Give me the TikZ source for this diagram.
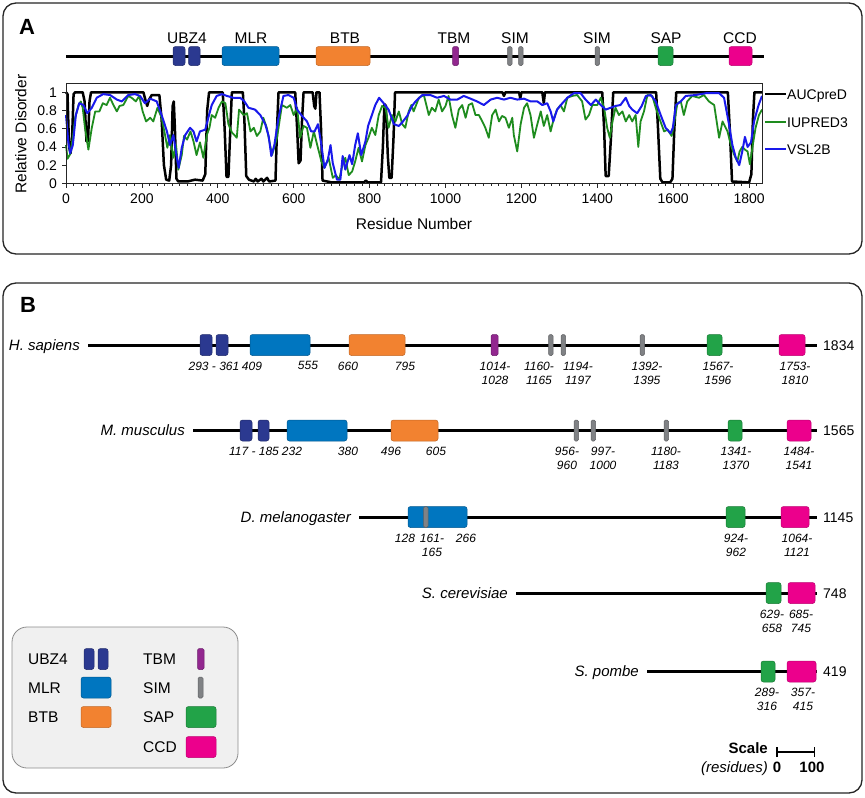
\documentclass[tikz,border=0pt]{standalone}
\usepackage{fontspec}
\setmainfont{Liberation Sans}
\usepackage{tikz}
\usetikzlibrary{positioning}
\usetikzlibrary{arrows.meta}

\definecolor{ubzblue}{RGB}{43,57,144}
\definecolor{mlrblue}{RGB}{0,118,192}
\definecolor{btborange}{RGB}{242,130,48}
\definecolor{tbmpurple}{RGB}{146,39,143}
\definecolor{simgray}{RGB}{128,130,133}
\definecolor{sapgreen}{RGB}{34,163,72}
\definecolor{ccdpink}{RGB}{236,0,140}
\definecolor{iugreen}{RGB}{30,140,30}
\definecolor{vslblue}{RGB}{25,25,235}

\newcommand{\dombox}[5][10.5]{\draw[#2] (#3,#5-#1) rectangle (#4,#5+#1);}

\begin{document}
\begin{tikzpicture}[x=1pt, y=-1pt,
   panel/.style={draw=black!85, line width=1.3pt, rounded corners=13pt},
   backbone/.style={line width=3pt},
   dom/.style={rounded corners=2.5pt, line width=0.5pt},
   ubz/.style={dom, fill=ubzblue, draw=ubzblue!75!black},
   mlr/.style={dom, fill=mlrblue, draw=mlrblue!75!black},
   btb/.style={dom, fill=btborange, draw=btborange!80!black},
   tbm/.style={dom, rounded corners=1.5pt, fill=tbmpurple, draw=tbmpurple!75!black},
   sim/.style={dom, rounded corners=1.5pt, fill=simgray, draw=simgray!75!black},
   sap/.style={dom, fill=sapgreen, draw=sapgreen!75!black},
   ccd/.style={dom, fill=ccdpink, draw=ccdpink!80!black},
   lbl/.style={font=\fontsize{15.5}{18}\selectfont, inner sep=0pt, text height=11pt, text depth=0pt},
   legtxt/.style={lbl, anchor=west},
   plotleg/.style={font=\fontsize{14}{17}\selectfont, inner sep=1pt, text height=10pt, text depth=0pt, anchor=west},
   ticklbl/.style={font=\fontsize{14}{16}\selectfont, inner sep=0pt, text height=10pt, text depth=0pt},
   species/.style={font=\fontsize{15}{18}\selectfont\itshape, inner xsep=8pt, inner ysep=0pt, text height=10.7pt, text depth=0pt, anchor=east},
   lenlbl/.style={font=\fontsize{14}{17}\selectfont, inner xsep=6pt, inner ysep=0pt, text height=10pt, text depth=0pt, anchor=west},
   poslbl/.style={font=\fontsize{12}{14}\selectfont\itshape, inner sep=0pt, align=center, anchor=north},
   panellbl/.style={font=\fontsize{22}{26}\selectfont\bfseries, inner sep=0pt},
   frame/.style={draw=black!85, line width=0.8pt},
   aucline/.style={black, line width=2.5pt, line join=round},
   iuline/.style={iugreen, line width=1.8pt, line join=round},
   vslline/.style={vslblue, line width=2pt, line join=round},
   legbox/.style={draw=black!45, fill=black!6, line width=0.8pt, rounded corners=15pt}]

   \useasboundingbox (0,0) rectangle (865,798);
   \fill[white] (0,0) rectangle (865,798);

   \draw[panel] (3,3) rectangle (862,254);
   \node[panellbl] (plA) at (27,27) {A};

   \coordinate (astart) at (66,56);
   \coordinate (aend) at (764,56);
   \draw[backbone] (astart) -- (aend);
   \dombox[9.5]{ubz}{173}{185}{56}
   \dombox[9.5]{ubz}{188.5}{200}{56}
   \dombox[9.5]{mlr}{222}{279}{56}
   \dombox[9.5]{btb}{316}{370}{56}
   \dombox[9.5]{tbm}{452.5}{458.5}{56}
   \dombox[9.5]{sim}{507.5}{512}{56}
   \dombox[9.5]{sim}{518.5}{523}{56}
   \dombox[9.5]{sim}{595}{599.5}{56}
   \dombox[9.5]{sap}{658}{673}{56}
   \dombox[9.5]{ccd}{729}{752}{56}
   \node[lbl] (aubz) at (187,38) {UBZ4};
   \node[lbl] (amlr) at (251,38) {MLR};
   \node[lbl] (abtb) at (345,38) {BTB};
   \node[lbl] (atbm) at (454,38) {TBM};
   \node[lbl] (asim1) at (515,38) {SIM};
   \node[lbl] (asim2) at (597,38) {SIM};
   \node[lbl] (asap) at (666,38) {SAP};
   \node[lbl] (accd) at (740,38) {CCD};

   \begin{scope}[shift={(66pt,-183.3pt)}, x=0.3795pt, y=91pt]
      \foreach \r in {0,20,...,1820}
         \draw[frame] (\r,0) -- ++(0,-3pt);
      \foreach \r in {0,200,...,1800} {
         \draw[frame] (\r,0) -- ++(0,-5pt);
         \node[ticklbl, below=9.5pt] (xt\r) at (\r,0) {\r};
      }
      \foreach \v [count=\i] in {0,0.2,0.4,0.6,0.8,1} {
         \draw[frame] (0,\v) -- ++(-4pt,0);
         \node[ticklbl, left=9pt] (yt\i) at (0,\v) {\v};
      }
      \draw[aucline] plot coordinates {(0,1) (4,0.98) (8,0.4) (12,0.33) (16,0.5) (20,0.98) (24,1) (44,1) (49,0.9) (54,0.46) (58,0.46) (62,0.9) (66,1) (204,1) (209,0.92) (214,0.85) (219,0.92) (226,0.97) (246,0.97) (252,0.7) (258,0.2) (264,0.04) (272,0.03) (277,0.2) (281,0.85) (284,0.9) (287,0.6) (291,0.05) (296,0.02) (320,0.02) (340,0.04) (360,0.03) (367,0.1) (372,0.8) (377,1) (413,1) (418,0.6) (423,0.07) (428,0.07) (433,0.6) (437,1) (466,1) (470,0.7) (475,0.08) (482,0.04) (495,0.02) (500,0.05) (505,0.02) (515,0.05) (520,0.02) (530,0.06) (535,0.02) (552,0.03) (556,0.6) (560,1) (604,1) (609,0.6) (613,0.22) (618,0.25) (622,0.7) (626,1) (650,1) (654,0.85) (657,0.82) (660,1) (668,1) (672,0.6) (676,0.03) (700,0.01) (785,0.01) (790,0.03) (795,0.01) (830,0.01) (835,0.4) (839,0.87) (843,0.85) (848,0.3) (852,0.06) (858,0.06) (863,0.5) (867,1) (1150,1) (1154,0.96) (1158,1) (1194,1) (1197,0.93) (1200,1) (1255,1) (1259,0.88) (1262,1) (1413,1) (1418,0.6) (1422,0.08) (1430,0.08) (1436,0.5) (1442,1) (1555,1) (1560,0.6) (1566,0.05) (1572,0.01) (1592,0.01) (1598,0.05) (1603,0.6) (1608,1) (1744,1) (1749,0.6) (1755,0.02) (1800,0.01) (1806,0.1) (1810,0.7) (1814,1) (1834,1)};
      \draw[iuline] plot coordinates {(0,0.42) (4,0.27) (11,0.32) (18,0.5) (24,0.72) (33,0.86) (39,0.9) (44,0.83) (50,0.61) (59,0.37) (68,0.61) (77,0.79) (88,0.79) (97,0.88) (107,0.86) (116,0.94) (125,0.86) (134,0.79) (141,0.85) (151,0.86) (164,0.96) (173,0.94) (184,0.9) (193,0.96) (202,0.79) (211,0.68) (222,0.72) (230,0.68) (241,0.83) (252,0.72) (261,0.53) (267,0.39) (274,0.53) (283,0.28) (290,0.42) (296,0.15) (305,0.31) (311,0.52) (319,0.48) (328,0.57) (336,0.46) (344,0.31) (353,0.45) (362,0.28) (371,0.53) (378,0.61) (384,0.75) (393,0.72) (402,0.83) (411,0.9) (420,0.88) (428,0.65) (437,0.56) (446,0.52) (450,0.5) (456,0.81) (468,0.75) (477,0.77) (486,0.57) (495,0.61) (503,0.52) (512,0.57) (520,0.72) (529,0.61) (543,0.31) (556,0.5) (569,0.86) (582,0.83) (591,0.86) (600,0.75) (609,0.83) (617,0.5) (626,0.63) (635,0.61) (644,0.39) (653,0.57) (662,0.42) (673,0.24) (681,0.17) (692,0.28) (703,0.06) (711,0.09) (720,0.04) (729,0.21) (736,0.28) (745,0.09) (754,0.13) (762,0.24) (771,0.39) (780,0.24) (789,0.42) (797,0.5) (806,0.61) (815,0.53) (824,0.75) (833,0.85) (842,0.83) (850,0.61) (859,0.75) (868,0.68) (877,0.79) (886,0.65) (894,0.61) (903,0.79) (910,0.86) (916,0.79) (930,0.94) (943,0.97) (956,0.75) (964,0.83) (973,0.79) (982,0.92) (991,0.79) (1000,0.85) (1008,0.96) (1017,0.75) (1026,0.61) (1035,0.81) (1044,0.86) (1053,0.72) (1061,0.86) (1070,0.88) (1079,0.75) (1088,0.75) (1097,0.68) (1105,0.61) (1114,0.5) (1123,0.75) (1132,0.81) (1141,0.68) (1149,0.74) (1158,0.72) (1167,0.61) (1176,0.72) (1180,0.53) (1189,0.35) (1198,0.65) (1207,0.83) (1215,0.88) (1224,0.75) (1233,0.5) (1242,0.65) (1251,0.79) (1259,0.63) (1268,0.75) (1277,0.57) (1286,0.72) (1294,0.81) (1303,0.86) (1312,0.79) (1321,0.94) (1334,0.96) (1347,0.97) (1360,0.9) (1369,0.7) (1378,0.75) (1387,0.86) (1400,0.86) (1409,0.94) (1418,0.83) (1426,0.61) (1433,0.5) (1440,0.68) (1448,0.83) (1457,0.75) (1466,0.79) (1475,0.68) (1484,0.75) (1492,0.68) (1501,0.75) (1508,0.4) (1514,0.68) (1523,0.79) (1532,0.97) (1545,0.96) (1554,0.83) (1563,0.72) (1576,0.57) (1585,0.59) (1596,0.52) (1602,0.65) (1611,0.88) (1620,0.9) (1628,0.75) (1637,0.9) (1650,0.96) (1668,0.94) (1681,0.97) (1694,0.9) (1708,0.86) (1721,0.5) (1730,0.68) (1743,0.57) (1752,0.42) (1761,0.31) (1769,0.24) (1775,0.35) (1782,0.4) (1789,0.37) (1796,0.35) (1802,0.21) (1809,0.4) (1817,0.61) (1826,0.75) (1834,0.81)};
      \draw[vslline] plot coordinates {(0,0.75) (6,0.46) (11,0.33) (18,0.42) (26,0.75) (35,0.88) (46,0.86) (56,0.77) (68,0.83) (81,0.94) (98,0.98) (116,0.97) (134,0.92) (147,0.9) (164,0.97) (182,0.98) (195,0.96) (208,0.88) (222,0.93) (239,0.9) (252,0.75) (266,0.57) (274,0.42) (283,0.53) (292,0.28) (297,0.17) (305,0.39) (314,0.53) (327,0.61) (336,0.57) (344,0.46) (353,0.57) (367,0.59) (375,0.72) (384,0.86) (397,0.96) (411,0.98) (424,0.96) (441,0.94) (459,0.94) (470,0.9) (481,0.83) (498,0.81) (512,0.75) (525,0.65) (534,0.52) (541,0.3) (549,0.42) (560,0.72) (573,0.96) (586,0.97) (600,0.94) (609,0.81) (622,0.74) (635,0.68) (646,0.57) (655,0.57) (664,0.65) (673,0.42) (681,0.17) (690,0.26) (697,0.42) (703,0.22) (714,0.04) (723,0.04) (729,0.3) (736,0.15) (747,0.31) (754,0.21) (762,0.42) (769,0.55) (778,0.31) (789,0.46) (796,0.63) (806,0.75) (815,0.86) (825,0.94) (837,0.88) (850,0.81) (864,0.65) (877,0.63) (886,0.67) (899,0.74) (912,0.85) (921,0.9) (939,0.97) (960,0.97) (978,0.94) (996,0.96) (1013,0.92) (1031,0.92) (1048,0.96) (1066,0.93) (1083,0.9) (1101,0.86) (1119,0.92) (1136,0.94) (1154,0.92) (1171,0.94) (1189,0.92) (1207,0.93) (1224,0.9) (1242,0.9) (1255,0.86) (1268,0.88) (1277,0.79) (1284,0.68) (1294,0.81) (1308,0.88) (1321,0.94) (1338,0.99) (1356,0.99) (1369,0.92) (1383,0.86) (1396,0.92) (1409,0.86) (1422,0.81) (1435,0.83) (1448,0.85) (1461,0.86) (1475,0.94) (1484,0.85) (1492,0.81) (1505,0.77) (1517,0.85) (1528,0.96) (1541,0.97) (1554,0.9) (1567,0.75) (1580,0.61) (1593,0.55) (1599,0.61) (1607,0.86) (1620,0.9) (1633,0.96) (1659,0.97) (1686,0.99) (1721,0.99) (1734,0.94) (1747,0.65) (1756,0.42) (1765,0.28) (1774,0.2) (1782,0.35) (1789,0.51) (1796,0.4) (1805,0.45) (1813,0.68) (1825,0.86) (1834,0.96)};
      \draw[frame] (0,0) rectangle (1834,1.1);
   \end{scope}
   \node[lbl] (xaxis) at (414,224) {Residue Number};
   \node[lbl, rotate=90] (yaxis) at (21,134) {Relative Disorder};

   \coordinate (aucstart) at (765,94);
   \coordinate (iustart) at (765,122);
   \coordinate (vslstart) at (765,149);
   \node[plotleg] (auclbl) at (786,94) {AUCpreD};
   \node[plotleg] (iulbl) at (786,122) {IUPRED3};
   \node[plotleg] (vsllbl) at (786,149) {VSL2B};
   \draw[aucline, line width=2pt] (aucstart) -- (auclbl);
   \draw[iuline] (iustart) -- (iulbl);
   \draw[vslline] (vslstart) -- (vsllbl);

   \draw[panel] (3,283) rectangle (862,793);
   \node[panellbl] (plB) at (28,305) {B};

   \node[species] (hs) at (88,345) {H. sapiens};
   \node[lenlbl] (hslen) at (817,345) {1834};
   \draw[backbone] (hs) -- (hslen);
   \dombox{ubz}{200}{212}{345}
   \dombox{ubz}{216}{228}{345}
   \dombox{mlr}{250}{310}{345}
   \dombox{btb}{349}{405}{345}
   \dombox{tbm}{491}{498}{345}
   \dombox{sim}{548.5}{553}{345}
   \dombox{sim}{561}{565.5}{345}
   \dombox{sim}{640}{644.5}{345}
   \dombox{sap}{707}{722}{345}
   \dombox{ccd}{779}{805}{345}
   \node[poslbl] (hs1) at (214,361.5) {293 - 361};
   \node[poslbl] (hs2) at (252,361.5) {409};
   \node[poslbl] (hs3) at (308,361.5) {555};
   \node[poslbl] (hs4) at (348,361.5) {660};
   \node[poslbl] (hs5) at (405,361.5) {795};
   \node[poslbl] (hs6) at (495,361.5) {1014-\\1028};
   \node[poslbl] (hs7) at (539,361.5) {1160-\\1165};
   \node[poslbl] (hs8) at (578,361.5) {1194-\\1197};
   \node[poslbl] (hs9) at (647,361.5) {1392-\\1395};
   \node[poslbl] (hs10) at (718,361.5) {1567-\\1596};
   \node[poslbl] (hs11) at (795,361.5) {1753-\\1810};

   \node[species] (mm) at (193,430.5) {M. musculus};
   \node[lenlbl] (mmlen) at (817,430.5) {1565};
   \draw[backbone] (mm) -- (mmlen);
   \dombox{ubz}{240}{252}{430.5}
   \dombox{ubz}{258}{269}{430.5}
   \dombox{mlr}{287}{347}{430.5}
   \dombox{btb}{391}{438}{430.5}
   \dombox{sim}{574}{578.5}{430.5}
   \dombox{sim}{591}{595.5}{430.5}
   \dombox{sim}{664}{668.5}{430.5}
   \dombox{sap}{728}{742}{430.5}
   \dombox{ccd}{787}{811}{430.5}
   \node[poslbl] (mm1) at (254,447) {117 - 185};
   \node[poslbl] (mm2) at (292,447) {232};
   \node[poslbl] (mm3) at (348,447) {380};
   \node[poslbl] (mm4) at (391,447) {496};
   \node[poslbl] (mm5) at (436,447) {605};
   \node[poslbl] (mm6) at (567,447) {956-\\960};
   \node[poslbl] (mm7) at (603,447) {997-\\1000};
   \node[poslbl] (mm8) at (666,447) {1180-\\1183};
   \node[poslbl] (mm9) at (736,447) {1341-\\1370};
   \node[poslbl] (mm10) at (799,447) {1484-\\1541};

   \node[species] (dm) at (359,517) {D. melanogaster};
   \node[lenlbl] (dmlen) at (817,517) {1145};
   \draw[backbone] (dm) -- (dmlen);
   \dombox{mlr}{408}{467}{517}
   \dombox{sim}{423.5}{428}{517}
   \dombox{sap}{726}{745}{517}
   \dombox{ccd}{781}{809}{517}
   \node[poslbl] (dm1) at (405,533.5) {128};
   \node[poslbl] (dm2) at (432,533.5) {161-\\165};
   \node[poslbl] (dm3) at (466,533.5) {266};
   \node[poslbl] (dm4) at (736,533.5) {924-\\962};
   \node[poslbl] (dm5) at (797,533.5) {1064-\\1121};

   \node[species] (sc) at (516,593) {S. cerevisiae};
   \node[lenlbl] (sclen) at (817,593) {748};
   \draw[backbone] (sc) -- (sclen);
   \dombox{sap}{766}{781}{593}
   \dombox{ccd}{788}{815}{593}
   \node[poslbl] (sc1) at (772,609.5) {629-\\658};
   \node[poslbl] (sc2) at (801,609.5) {685-\\745};

   \node[species] (sp) at (647,671.5) {S. pombe};
   \node[lenlbl] (splen) at (817,671.5) {419};
   \draw[backbone] (sp) -- (splen);
   \dombox{sap}{761}{775}{671.5}
   \dombox{ccd}{787}{816}{671.5}
   \node[poslbl] (sp1) at (767,688) {289-\\316};
   \node[poslbl] (sp2) at (803,688) {357-\\415};

   \draw[legbox] (12,627) rectangle (238,768);
   \node[legtxt] (lgubz) at (28,659) {UBZ4};
   \node[legtxt] (lgmlr) at (28,687.5) {MLR};
   \node[legtxt] (lgbtb) at (28,717) {BTB};
   \node[legtxt] (lgtbm) at (143,659) {TBM};
   \node[legtxt] (lgsim) at (143,687.5) {SIM};
   \node[legtxt] (lgsap) at (143,717) {SAP};
   \node[legtxt] (lgccd) at (143,747) {CCD};
   \dombox{ubz}{84}{94}{659}
   \dombox{ubz}{98}{108}{659}
   \dombox{mlr}{81}{111}{687.5}
   \dombox{btb}{81}{111}{717}
   \dombox{tbm}{197.5}{204}{659}
   \dombox{sim}{198}{203}{687.5}
   \dombox{sap}{186}{216}{717}
   \dombox{ccd}{186}{216}{747}

   \node[lbl, font=\fontsize{15}{18}\selectfont\bfseries, anchor=east] (scale) at (768,748) {Scale};
   \node[lbl, font=\fontsize{15}{18}\selectfont\itshape, anchor=east] (scres) at (768,767) {(residues)};
   \node[lbl, font=\fontsize{15}{18}\selectfont\bfseries] (sczero) at (777,767) {0};
   \node[lbl, font=\fontsize{15}{18}\selectfont\bfseries] (schund) at (812,767) {100};
   \coordinate (sc0) at (776,752);
   \coordinate (sc100) at (815,752);
   \draw[line width=1.5pt, {Bar[width=10pt]}-{Bar[width=10pt]}] (sc0) -- (sc100);
\end{tikzpicture}
\end{document}
